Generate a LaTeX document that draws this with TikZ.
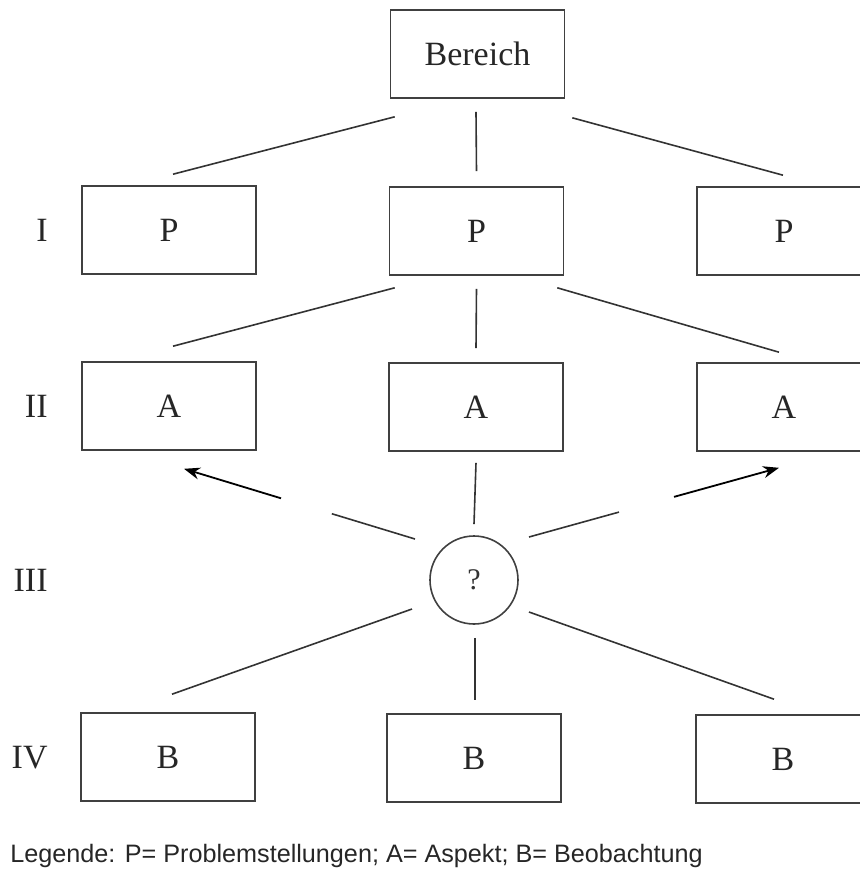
\documentclass[tikz,border=0pt]{standalone}
\usepackage{fontspec}
\setmainfont{Liberation Serif}
\newfontfamily\legendfont{Liberation Sans}
\usetikzlibrary{arrows.meta,calc}
\begin{document}
\begin{tikzpicture}[x=0.5pt,y=-0.5pt]
\tikzstyle{every node}+=[inner sep=0pt]
\tikzstyle{box}=[draw=black!75, line width=0.8pt, minimum width=87pt, minimum height=44pt, text=black!85, font=\fontsize{17}{20}\selectfont]
\tikzstyle{ring}=[draw=black!75, line width=0.8pt, circle, minimum size=44pt, text=black!80, font=\fontsize{15}{18}\selectfont]
\tikzstyle{lvl}=[anchor=east, text=black!85, font=\fontsize{17}{20}\selectfont]
\tikzstyle{link}=[black!80, line width=0.8pt]
\tikzstyle{pointer}=[black, line width=0.9pt, -{Stealth[length=8pt,width=6pt]}]
\useasboundingbox (0,0) rectangle (860,869);
\node [box] (ber) at (477.5,54) {Bereich};
\node [box] (p1) at (169,230) {P};
\node [box] (p2) at (476.5,231) {P};
\node [box] (p3) at (784,231) {P};
\node [box] (a1) at (169,406) {A};
\node [box] (a2) at (476,407) {A};
\node [box] (a3) at (784,407) {A};
\node [ring] (q) at (474,580) {?};
\node [box] (b1) at (168,757) {B};
\node [box] (b2) at (474,758) {B};
\node [box] (b3) at (783,759) {B};
\node [lvl] (l1) at (48,230) {I};
\node [lvl] (l2) at (48,406) {II};
\node [lvl] (l3) at (48,580) {III};
\node [lvl] (l4) at (48,758) {IV};
\node [anchor=base west, text=black!85, font=\legendfont\fontsize{12.6}{15}\selectfont] (leg) at (10,862) {Legende: P= Problemstellungen; A= Aspekt; B= Beobachtung};
\draw [link] ([shift={(5,18)}]ber.south west) -- ([shift={(4,-11)}]p1.north);
\draw [link] ([shift={(-1.5,13)}]ber.south) -- ([shift={(0,-15)}]p2.north);
\draw [link] ([shift={(7,19)}]ber.south east) -- ([shift={(-1,-11)}]p3.north);
\draw [link] ([shift={(6,12)}]p2.south west) -- ([shift={(4,-15)}]a1.north);
\draw [link] ([shift={(0,13)}]p2.south) -- ([shift={(0,-14)}]a2.north);
\draw [link] ([shift={(-7,12)}]p2.south east) -- ([shift={(-5,-10)}]a3.north);
\draw [link] ([shift={(0,11)}]a2.south) -- ([shift={(0,-11)}]q.north);
\coordinate (s1) at ([shift={(-59,-41)}]q.center);
\coordinate (e1) at ([shift={(15,18)}]a1.south);
\coordinate (s3) at ([shift={(55,-43)}]q.center);
\coordinate (e3) at ([shift={(-5,16)}]a3.south);
\draw [link] (s1) -- ($(s1)!0.36!(e1)$);
\draw [pointer] ($(s1)!0.58!(e1)$) -- (e1);
\draw [link] (s3) -- ($(s3)!0.36!(e3)$);
\draw [pointer] ($(s3)!0.58!(e3)$) -- (e3);
\draw [link] ([shift={(-62,29)}]q.center) -- ([shift={(4,-18)}]b1.north);
\draw [link] ([shift={(1,13)}]q.south) -- ([shift={(1,-13)}]b2.north);
\draw [link] ([shift={(55,32)}]q.center) -- ([shift={(-9,-15)}]b3.north);
\end{tikzpicture}
\end{document}
